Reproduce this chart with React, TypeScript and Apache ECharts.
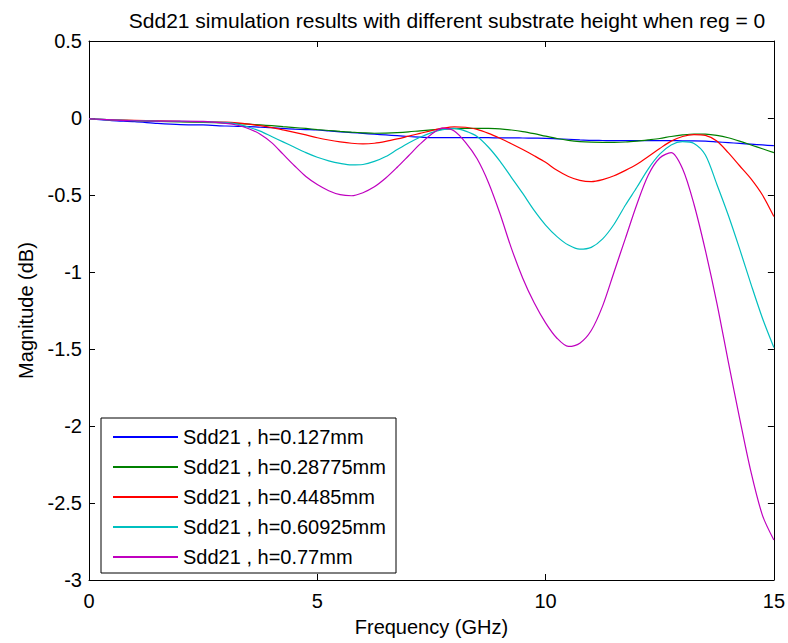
import React, { useEffect, useRef } from "react";
import * as echarts from "echarts";

const freq = [0, 0.5, 1, 1.5, 2, 2.5,
  3, 3.25, 3.5, 3.75, 4, 4.25, 4.5, 4.75, 5, 5.25, 5.5, 5.75, 6, 6.25, 6.5, 6.75, 7, 7.25, 7.5, 7.75,
  8, 8.25, 8.5, 8.75, 9, 9.25, 9.5, 9.75, 10, 10.25, 10.5, 10.75, 11, 11.25, 11.5, 11.75,
  12, 12.25, 12.5, 12.75, 13, 13.25, 13.5, 13.75, 14, 14.25, 14.5, 14.75, 15];

const h0127 = [-0.005, -0.017, -0.024, -0.035, -0.043, -0.045,
  -0.052, -0.054, -0.056, -0.06, -0.063, -0.068, -0.072, -0.075, -0.078, -0.084, -0.09, -0.095, -0.1, -0.105, -0.11, -0.115, -0.12, -0.124, -0.127, -0.128,
  -0.128, -0.128, -0.128, -0.128, -0.129, -0.129, -0.13, -0.131, -0.132, -0.135, -0.138, -0.142, -0.145, -0.146, -0.147, -0.147,
  -0.147, -0.147, -0.147, -0.147, -0.148, -0.148, -0.15, -0.155, -0.16, -0.165, -0.17, -0.175, -0.18];
const h028775 = [-0.005, -0.012, -0.018, -0.022, -0.025, -0.028,
  -0.033, -0.036, -0.04, -0.045, -0.05, -0.056, -0.062, -0.068, -0.075, -0.081, -0.087, -0.092, -0.096, -0.099, -0.098, -0.095, -0.09, -0.083, -0.077, -0.072,
  -0.069, -0.067, -0.067, -0.068, -0.071, -0.078, -0.088, -0.102, -0.118, -0.133, -0.145, -0.153, -0.157, -0.158, -0.158, -0.156,
  -0.15, -0.142, -0.133, -0.12, -0.11, -0.104, -0.105, -0.113, -0.128, -0.15, -0.175, -0.2, -0.225];
const h04485 = [-0.005, -0.012, -0.015, -0.018, -0.022, -0.025,
  -0.027, -0.032, -0.04, -0.05, -0.062, -0.077, -0.093, -0.11, -0.128, -0.143, -0.155, -0.164, -0.168, -0.164, -0.152, -0.136, -0.118, -0.1, -0.082, -0.066,
  -0.057, -0.06, -0.074, -0.1, -0.132, -0.167, -0.205, -0.245, -0.288, -0.34, -0.38, -0.405, -0.413, -0.4, -0.375, -0.34,
  -0.3, -0.25, -0.198, -0.15, -0.12, -0.108, -0.113, -0.15, -0.225, -0.31, -0.395, -0.5, -0.64];
const h060925 = [-0.005, -0.012, -0.017, -0.02, -0.022, -0.025,
  -0.03, -0.04, -0.06, -0.085, -0.12, -0.155, -0.19, -0.225, -0.255, -0.278, -0.295, -0.305, -0.302, -0.282, -0.25, -0.205, -0.162, -0.125, -0.095, -0.076,
  -0.067, -0.085, -0.12, -0.19, -0.28, -0.385, -0.49, -0.6, -0.695, -0.77, -0.825, -0.852, -0.84, -0.785, -0.69, -0.565,
  -0.45, -0.33, -0.235, -0.175, -0.154, -0.165, -0.24, -0.43, -0.63, -0.85, -1.08, -1.3, -1.49];
const h077 = [-0.005, -0.012, -0.018, -0.02, -0.02, -0.022,
  -0.035, -0.047, -0.07, -0.105, -0.16, -0.235, -0.31, -0.38, -0.432, -0.472, -0.498, -0.505, -0.485, -0.447, -0.39, -0.32, -0.245, -0.17, -0.105, -0.066,
  -0.085, -0.16, -0.265, -0.42, -0.62, -0.845, -1.04, -1.2, -1.33, -1.43, -1.483, -1.462, -1.38, -1.22, -1.0, -0.78,
  -0.56, -0.37, -0.26, -0.225, -0.33, -0.56, -0.86, -1.2, -1.58, -1.95, -2.3, -2.58, -2.74];

const seriesNames = [
  "Sdd21 , h=0.127mm",
  "Sdd21 , h=0.28775mm",
  "Sdd21 , h=0.4485mm",
  "Sdd21 , h=0.60925mm",
  "Sdd21 , h=0.77mm",
];
const seriesValues = [h0127, h028775, h04485, h060925, h077];
const colors = ["#0000ff", "#008000", "#ff0000", "#00bfbf", "#bf00bf"];

const FONT = "'Liberation Sans', Arial, sans-serif";

export default function App() {
  const ref = useRef<HTMLDivElement>(null);
  useEffect(() => {
    if (!ref.current) return;
    const chart = echarts.init(ref.current, undefined, { renderer: "svg" });
    const axisCommon = {
      type: "value" as const,
      axisLine: { show: true, onZero: false, lineStyle: { color: "#000", width: 1 } },
      axisTick: { show: true, inside: true, length: 6, lineStyle: { color: "#000" } },
      splitLine: { show: false },
    };
    chart.setOption({
      animation: false,
      backgroundColor: "#fff",
      textStyle: { fontFamily: FONT },
      title: {
        text: "Sdd21 simulation results with different substrate height when reg = 0",
        left: 442,
        textAlign: "center",
        top: 5,
        textStyle: { fontFamily: FONT, fontSize: 21, fontWeight: "normal", color: "#000" },
      },
      grid: { left: 89, right: 10, top: 41, bottom: 63, containLabel: false },
      graphic: [
        {
          type: "rect",
          shape: { x: 101, y: 418, width: 295, height: 155 },
          style: { fill: "#fff", stroke: "#000", lineWidth: 1 },
          z: 10,
        },
      ],
      legend: {
        orient: "vertical",
        left: 113,
        top: 427,
        padding: 0,
        itemWidth: 65,
        itemHeight: 2,
        itemGap: 10,
        icon: "rect",
        z: 20,
        textStyle: { fontFamily: FONT, fontSize: 20, color: "#000", lineHeight: 20 },
        data: seriesNames,
      },
      xAxis: [
        {
          ...axisCommon,
          min: 0,
          max: 15,
          interval: 5,
          position: "bottom",
          name: "Frequency (GHz)",
          nameLocation: "middle",
          nameGap: 37,
          nameTextStyle: { fontFamily: FONT, fontSize: 20, color: "#000" },
          axisLabel: { color: "#000", fontFamily: FONT, fontSize: 20, margin: 11 },
        },
        {
          ...axisCommon,
          min: 0,
          max: 15,
          interval: 5,
          position: "top",
          axisLabel: { show: false },
        },
      ],
      yAxis: [
        {
          ...axisCommon,
          min: -3,
          max: 0.5,
          interval: 0.5,
          position: "left",
          name: "Magnitude (dB)",
          nameLocation: "middle",
          nameGap: 53,
          nameTextStyle: { fontFamily: FONT, fontSize: 20, color: "#000" },
          axisLabel: { color: "#000", fontFamily: FONT, fontSize: 20, margin: 7 },
        },
        {
          ...axisCommon,
          min: -3,
          max: 0.5,
          interval: 0.5,
          position: "right",
          axisLabel: { show: false },
        },
      ],
      series: seriesNames.map((name, i) => ({
        name,
        type: "line",
        xAxisIndex: 0,
        yAxisIndex: 0,
        smooth: 0.3,
        showSymbol: false,
        symbol: "none",
        lineStyle: { color: colors[i], width: 1.2 },
        itemStyle: { color: colors[i] },
        data: freq.map((f, j) => [f, seriesValues[i][j]]),
      })),
    });
    return () => chart.dispose();
  }, []);
  return (
    <div
      ref={ref}
      style={{ position: "fixed", left: 0, top: 0, width: 788, height: 643 }}
    />
  );
}
